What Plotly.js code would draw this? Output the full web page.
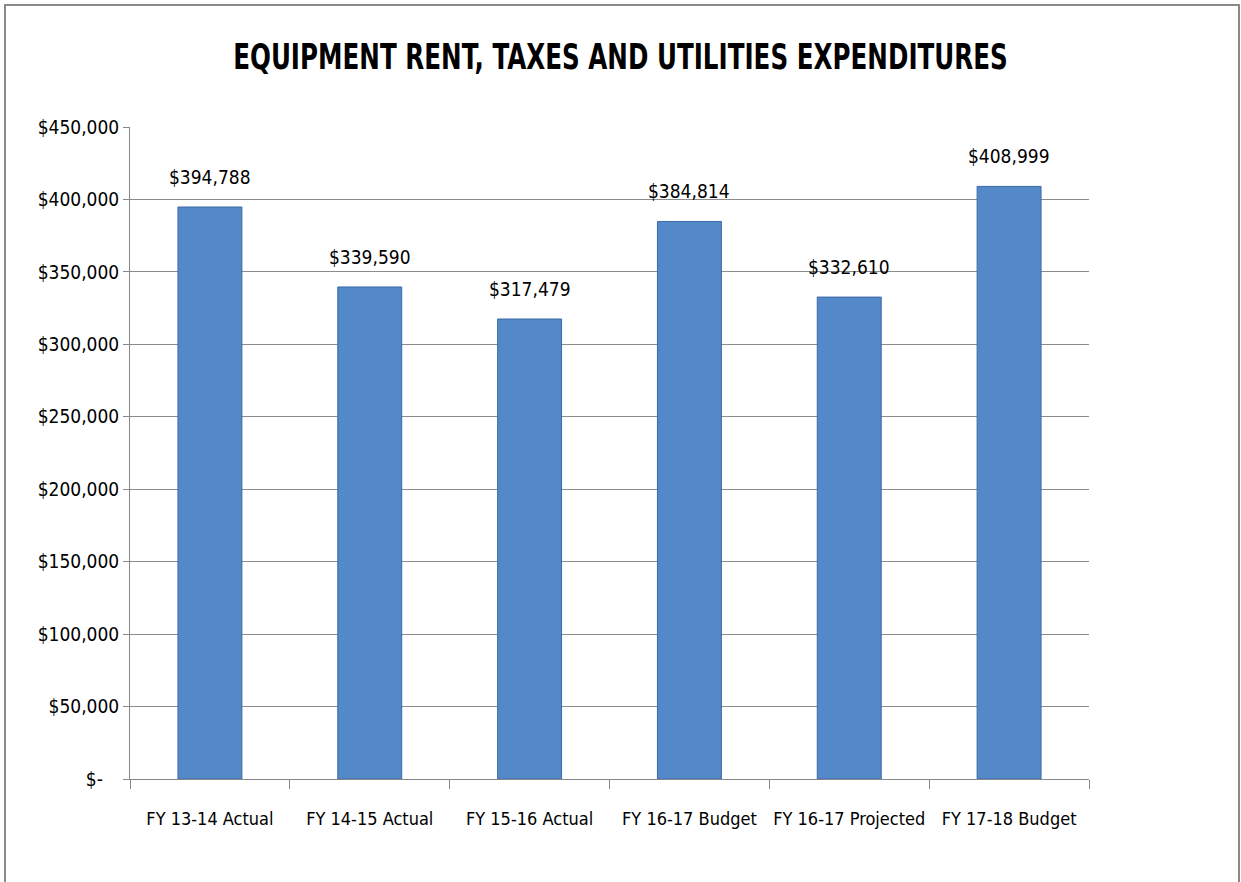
<!DOCTYPE html>
<html>
<head>
<meta charset="utf-8">
<script src="https://cdn.plot.ly/plotly-3.0.1.min.js"></script>
<style>
html,body{margin:0;padding:0;background:#fff;}
#wrap{position:absolute;left:4px;top:4px;width:1236px;height:890px;border:2px solid #8a8a8a;box-sizing:border-box;}
#chart{position:absolute;left:0;top:0;width:1241px;height:882px;}
#chart svg text{font-stretch:condensed !important;}
#chart svg text.gtitle{transform-box:fill-box;transform-origin:center;transform:scaleX(0.76);}
</style>
</head>
<body>
<div id="wrap"></div>
<div id="chart"></div>
<script>
const categories = ["FY 13-14 Actual","FY 14-15 Actual","FY 15-16 Actual","FY 16-17 Budget","FY 16-17 Projected","FY 17-18 Budget"];
const values = [394788, 339590, 317479, 384814, 332610, 408999];
const valueLabels = ["$394,788","$339,590","$317,479","$384,814","$332,610","$408,999"];
const tickValues = [0,50000,100000,150000,200000,250000,300000,350000,400000,450000];
const tickLabels = ["$-\u00a0\u00a0\u00a0","$50,000","$100,000","$150,000","$200,000","$250,000","$300,000","$350,000","$400,000","$450,000"];
const titleText = "EQUIPMENT RENT, TAXES AND UTILITIES EXPENDITURES";

const FONT = "'DejaVu Sans Condensed', 'DejaVu Sans', sans-serif";

const trace = {
  type: "bar",
  x: categories,
  y: values,
  width: 0.4,
  marker: {color: "#5389C9", line: {color: "#3A6AA6", width: 1}},
  hoverinfo: "skip"
};

const annotations = categories.map((c,i)=>({
  x: c, y: values[i], xref: "x", yref: "y",
  text: valueLabels[i], showarrow: false,
  yanchor: "bottom", yshift: 17,
  font: {family: FONT, size: 19, color: "#000"}
}));

const layout = {
  width: 1241, height: 882,
  paper_bgcolor: "rgba(0,0,0,0)", plot_bgcolor: "rgba(0,0,0,0)",
  margin: {l: 130, r: 152, t: 127, b: 103},
  showlegend: false,
  title: {text: "<b>" + titleText + "</b>", x: 0.5, xanchor: "center", y: 0.936, yanchor: "middle",
          font: {family: FONT, size: 36, color: "#000"}},
  xaxis: {
    type: "category",
    showline: true, linecolor: "#888", linewidth: 1,
    ticks: "outside", tickson: "boundaries", ticklen: 9, tickcolor: "#888",
    showgrid: false, tickangle: 0,
    tickfont: {family: FONT, size: 18, color: "#000"},
    ticklabelstandoff: 23
  },
  yaxis: {
    range: [0, 450000],
    tickvals: tickValues, ticktext: tickLabels,
    showline: true, linecolor: "#888", linewidth: 1,
    ticks: "outside", ticklen: 6, tickcolor: "#888",
    showgrid: true, gridcolor: "#8c8c8c", gridwidth: 1,
    zeroline: false,
    tickfont: {family: FONT, size: 19, color: "#000"}
  },
  annotations: annotations,
  bargap: 0.6
};

Plotly.newPlot("chart", [trace], layout, {displayModeBar: false, staticPlot: true});
</script>
</body>
</html>
